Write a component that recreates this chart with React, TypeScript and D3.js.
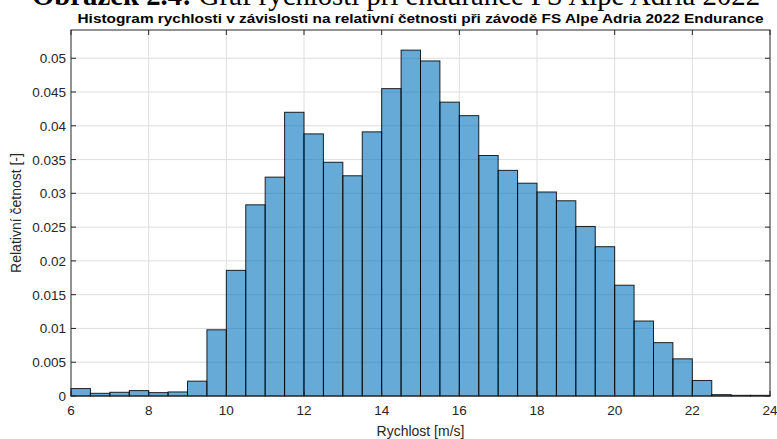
import React from "react";
import * as d3 from "d3";

// Histogram bins (m/s) and relative frequencies
const binStarts = [
  6, 6.5, 7, 7.5, 8, 8.5, 9, 9.5, 10, 10.5, 11, 11.5, 12, 12.5, 13, 13.5, 14, 14.5,
  15, 15.5, 16, 16.5, 17, 17.5, 18, 18.5, 19, 19.5, 20, 20.5, 21, 21.5, 22, 22.5, 23, 23.5,
];
const binWidth = 0.5;
const relFreq = [
  0.0011, 0.0004, 0.00055, 0.0008, 0.0005, 0.0006, 0.0022, 0.0098, 0.0186, 0.0283,
  0.0324, 0.0420, 0.0388, 0.0346, 0.0326, 0.0391, 0.0455, 0.0512, 0.0496, 0.0435,
  0.0415, 0.0356, 0.0334, 0.0315, 0.0302, 0.0289, 0.0251, 0.0221, 0.0164, 0.0111,
  0.0079, 0.0055, 0.0023, 0.0002, 0.0001, 0.0001,
];
const xTicks = [6, 8, 10, 12, 14, 16, 18, 20, 22, 24];
const yTicks = [0, 0.005, 0.01, 0.015, 0.02, 0.025, 0.03, 0.035, 0.04, 0.045, 0.05];

const W = 777;
const H = 439;
const left = 71;
const right = 770;
const top = 30;
const bottom = 396;

export default function App() {
  const x = d3.scaleLinear().domain([6, 24]).range([left, right]);
  const y = d3.scaleLinear().domain([0, 0.05418]).range([bottom, top]);
  const axisColor = "#262626";
  const tickLen = 5;
  const fmt = (v: number) => (v === 0 ? "0" : String(+v.toFixed(3)));

  return (
    <svg
      width={W}
      height={H}
      style={{ position: "absolute", left: 0, top: 0, background: "#fff" }}
      fontFamily="'Liberation Sans', Arial, sans-serif"
    >
      {/* caption of the figure (runs off the page top) */}
      <text
        x={32}
        y={5}
        fontFamily="'Liberation Serif', 'Times New Roman', serif"
        fontSize={30}
        textLength={728}
        lengthAdjust="spacingAndGlyphs"
        fill="#000"
      >
        <tspan fontWeight="bold">Obrázek 2.4:</tspan> Graf rychlosti při endurance FS Alpe Adria 2022
      </text>

      {/* title */}
      <text
        x={(left + right) / 2}
        y={23}
        textAnchor="middle"
        fontSize={13.5}
        fontWeight="bold"
        textLength={686}
        lengthAdjust="spacingAndGlyphs"
        fill="#000"
      >
        Histogram rychlosti v závislosti na relativní četnosti při závodě FS Alpe Adria 2022 Endurance
      </text>

      {/* grid */}
      <g stroke="#dedede" strokeWidth={1}>
        {xTicks.slice(1, -1).map((t) => (
          <line key={"gx" + t} x1={x(t)} x2={x(t)} y1={top} y2={bottom} />
        ))}
        {yTicks.slice(1).map((t) => (
          <line key={"gy" + t} x1={left} x2={right} y1={y(t)} y2={y(t)} />
        ))}
      </g>

      {/* bars */}
      <g>
        {binStarts.map((s, i) => (
          <rect
            key={s}
            x={x(s)}
            y={y(relFreq[i])}
            width={x(s + binWidth) - x(s)}
            height={bottom - y(relFreq[i])}
            fill="#0072BD"
            fillOpacity={0.6}
            stroke="#000"
            strokeWidth={1}
            strokeOpacity={0.85}
          />
        ))}
      </g>

      {/* axes box and ticks */}
      <g stroke={axisColor} strokeWidth={1} fill="none">
        <rect x={left} y={top} width={right - left} height={bottom - top} />
        {xTicks.map((t) => (
          <g key={"tx" + t}>
            <line x1={x(t)} x2={x(t)} y1={bottom} y2={bottom - tickLen} />
            <line x1={x(t)} x2={x(t)} y1={top} y2={top + tickLen} />
          </g>
        ))}
        {yTicks.map((t) => (
          <g key={"ty" + t}>
            <line x1={left} x2={left + tickLen} y1={y(t)} y2={y(t)} />
            <line x1={right} x2={right - tickLen} y1={y(t)} y2={y(t)} />
          </g>
        ))}
      </g>

      {/* tick labels */}
      <g fill={axisColor} fontSize={13.5}>
        {xTicks.map((t) => (
          <text key={"lx" + t} x={x(t)} y={bottom + 19} textAnchor="middle">
            {t}
          </text>
        ))}
        {yTicks.map((t) => (
          <text key={"ly" + t} x={left - 5} y={y(t) + 5} textAnchor="end">
            {fmt(t)}
          </text>
        ))}
      </g>

      {/* axis labels */}
      <text x={(left + right) / 2} y={436} textAnchor="middle" fontSize={14} fill={axisColor}>
        Rychlost [m/s]
      </text>
      <text
        transform={`translate(21, ${(top + bottom) / 2}) rotate(-90)`}
        textAnchor="middle"
        fontSize={14}
        fill={axisColor}
      >
        Relativní četnost [-]
      </text>
    </svg>
  );
}
